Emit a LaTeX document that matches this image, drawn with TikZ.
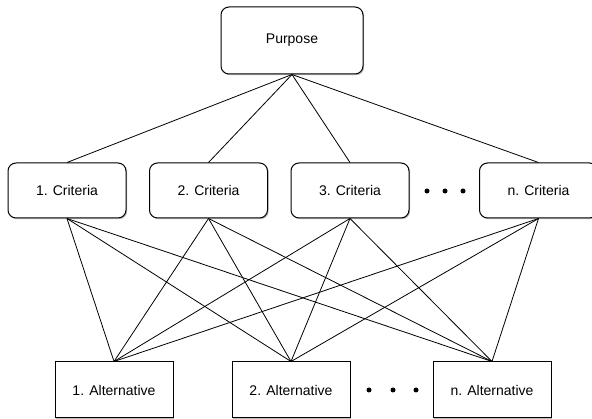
\documentclass[tikz,border=0pt]{standalone}
\usepackage{fontspec}
\setmainfont{Liberation Sans}
\usetikzlibrary{shadows}
\begin{document}
\begin{tikzpicture}[x=1pt,y=-1pt,
  box/.style={draw=black, line width=1pt, fill=white, font=\fontsize{14}{16}\selectfont, inner sep=0pt,
    drop shadow={opacity=0.25, shadow xshift=1.2pt, shadow yshift=-1.2pt, fill=black}},
  rbox/.style={box, rounded corners=8pt},
  link/.style={draw=black, line width=0.8pt},
  dot/.style={circle, fill=black, inner sep=0pt, minimum size=5pt}]
\useasboundingbox (0,0) rectangle (592,419);
\node[rbox, minimum width=142pt, minimum height=67pt] (P) at (292,40.5) {Purpose};
\foreach \n/\x/\t in {c1/67/1. Criteria, c2/208.5/2. Criteria, c3/350/3. Criteria, cn/538.5/n. Criteria}
  \node[rbox, minimum width=118pt, minimum height=55pt] (\n) at (\x,190.5) {\t};
\foreach \n/\x/\t in {a1/114/1. Alternative, a2/291/2. Alternative, an/492/n. Alternative}
  \node[box, minimum width=118pt, minimum height=56pt] (\n) at (\x,390) {\t};
\foreach \n/\x in {d1/427, d2/445, d3/463}
  \node[dot] (\n) at (\x,191) {};
\foreach \n/\x in {e1/369, e2/393, e3/416}
  \node[dot] (\n) at (\x,390) {};
\foreach \c in {c1,c2,c3,cn}
  \draw[link] (P.south) -- (\c.north);
\foreach \c in {c1,c2,c3,cn}
  \foreach \a in {a1,a2,an}
    \draw[link] (\c.south) -- (\a.north);
\end{tikzpicture}
\end{document}
